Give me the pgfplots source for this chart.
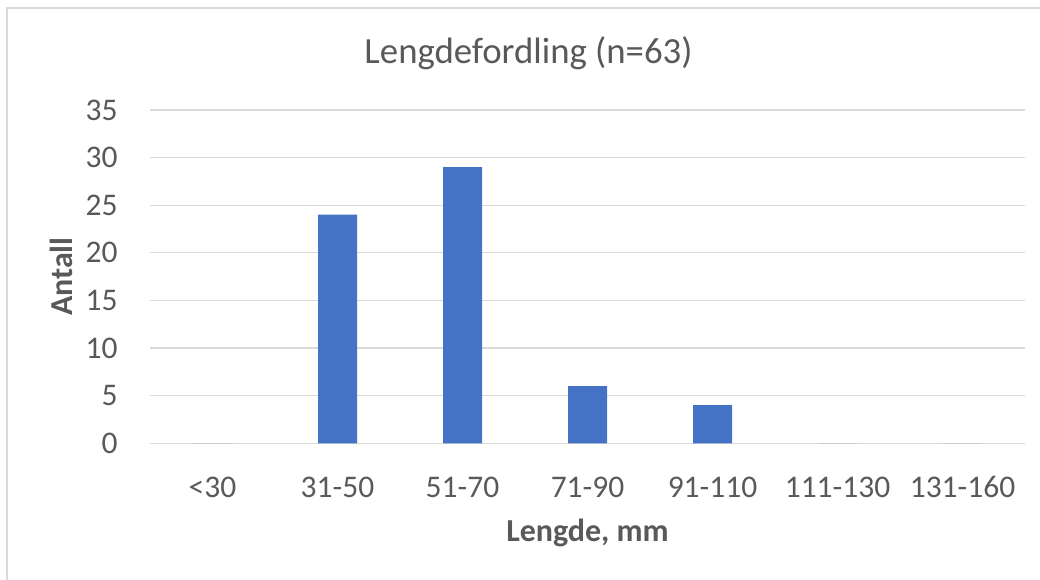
\documentclass[border=0pt]{standalone}
\usepackage{pgfplots}
\pgfplotsset{compat=1.18}
\usepackage{fontspec}
\setmainfont{Carlito}
\definecolor{barblue}{HTML}{4472C4}
\definecolor{gridgray}{HTML}{D9D9D9}
\definecolor{txtgray}{HTML}{595959}
\begin{document}
\begin{tikzpicture}[x=1pt,y=1pt]
\useasboundingbox (0,0) rectangle (520,289.5);
\draw[gridgray, line width=0.7pt] (3.5,-10) rectangle (540,285.5);
\begin{axis}[
  at={(75pt,67.85pt)}, anchor=south west,
  scale only axis, width=437.5pt, height=166.67pt,
  xmin=-0.5, xmax=6.5, ymin=0, ymax=35,
  ytick={0,5,...,35}, xtick={0,...,6},
  xticklabels={{<30},{31-50},{51-70},{71-90},{91-110},{111-130},{131-160}},
  major tick length=0pt,
  axis line style={draw=none},
  ymajorgrids, grid style={gridgray, line width=0.6pt},
  /pgf/number format/assume math mode=true,
  ticklabel style={font=\fontsize{15.75}{18}\selectfont, text=txtgray, inner sep=0pt},
  yticklabel style={anchor=east, xshift=-16pt},
  xticklabel style={anchor=north, yshift=-16.5pt},
  title={Lengdefordling (n=63)},
  title style={at={(axis description cs:0.4326,1.140)}, anchor=base, yshift=-6pt, font=\fontsize{18.4}{22}\selectfont, text=txtgray, inner sep=0pt},
  xlabel={Lengde, mm},
  xlabel style={at={(axis description cs:0.5,-0.2952)}, anchor=base, font=\bfseries\fontsize{16}{19}\selectfont, text=txtgray, inner sep=0pt},
  ylabel={Antall},
  ylabel style={at={(axis description cs:-0.1017,0.5)}, anchor=center, font=\bfseries\fontsize{16}{19}\selectfont, text=txtgray, inner sep=0pt},
  ybar, bar width=19.5pt,
]
\addplot[fill=barblue, draw=none] coordinates {(0,0) (1,24) (2,29) (3,6) (4,4) (5,0) (6,0)};
\end{axis}
\end{tikzpicture}
\end{document}
